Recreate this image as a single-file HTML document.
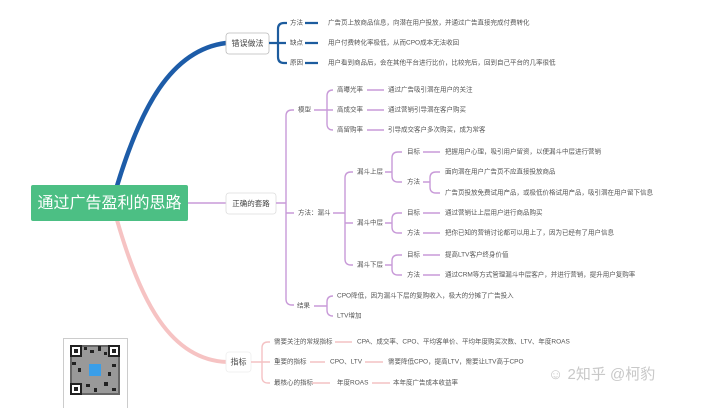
<!DOCTYPE html>
<html><head><meta charset="utf-8"><style>
html,body{margin:0;padding:0;background:#fff;}
svg{display:block;font-family:"Liberation Sans","Noto Sans CJK SC",sans-serif;}
.t{font-size:6.5px;fill:#555;dominant-baseline:middle;}
.b{fill:none;stroke:#1d5c9e;stroke-width:2.2;}
.p{fill:none;stroke:#c89ad8;stroke-width:1.4;}
.k{fill:none;stroke:#f4c2c4;stroke-width:1.4;}
</style></head><body>
<svg width="720" height="408" viewBox="0 0 720 408">
<path d="M117 186 C140 110 170 50 226 43" fill="none" stroke="#1d5ca8" stroke-width="4.5"/>
<path d="M117 220 C140 300 170 360 227 362" fill="none" stroke="#f6c3c3" stroke-width="4"/>
<line x1="188" y1="203" x2="226" y2="203" stroke="#c89ad8" stroke-width="1.4"/>
<rect x="31" y="185" width="157" height="36" rx="2" fill="#4cbf84"/>
<text x="109.5" y="204" font-size="16" fill="#fff" text-anchor="middle" dominant-baseline="middle">通过广告盈利的思路</text>

<rect x="226" y="33" width="43" height="21" rx="3" fill="#fff" stroke="#bbb" stroke-width="0.8"/>
<text x="247.5" y="44" font-size="8" fill="#444" text-anchor="middle" dominant-baseline="middle">错误做法</text>
<path class="b" d="M269 43 H278 M284 23 Q278 23 278 29 V57 Q278 63 284 63 M278 43 H286 M284 23 H287 M284 63 H287"/>
<text class="t" x="290" y="23">方法</text><text class="t" x="290" y="43">缺点</text><text class="t" x="290" y="63">原因</text>
<path class="b" d="M305 23 H318 M305 43 H318 M305 63 H318"/>
<text class="t" x="328" y="23">广告页上放商品信息，向潜在用户投放，并通过广告直接完成付费转化</text>
<text class="t" x="328" y="43">用户付费转化率极低，从而CPO成本无法收回</text>
<text class="t" x="328" y="63">用户看到商品后，会在其他平台进行比价，比较完后，回到自己平台的几率很低</text>

<rect x="226" y="193" width="50" height="21" rx="3" fill="#fff" stroke="#ddd" stroke-width="0.8"/>
<text x="251" y="204" font-size="7.5" fill="#444" text-anchor="middle" dominant-baseline="middle">正确的套路</text>
<path class="p" d="M276 203 H286 M292 110 Q286 110 286 116 V299 Q286 305 292 305 H294 M286 213 H294 M292 110 H294"/>
<text class="t" x="298" y="110">模型</text>
<text class="t" x="298" y="213">方法：漏斗</text>
<text class="t" x="297" y="306">结果</text>
<path class="p" d="M314 110 H327 M333 90 Q327 90 327 96 V124 Q327 130 333 130 M327 110 H333"/>
<text class="t" x="337" y="90">高曝光率</text><text class="t" x="337" y="110">高成交率</text><text class="t" x="337" y="130">高留购率</text>
<path class="p" d="M367 90 H384 M367 110 H384 M367 130 H384"/>
<text class="t" x="388" y="90">通过广告吸引潜在用户的关注</text>
<text class="t" x="388" y="110">通过营销引导潜在客户购买</text>
<text class="t" x="388" y="130">引导成交客户多次购买，成为常客</text>
<path class="p" d="M333 213 H345 M351 172 Q345 172 345 178 V259 Q345 265 351 265 M345 223 H353 M351 172 H353 M351 265 H353"/>
<text class="t" x="357" y="172">漏斗上层</text><text class="t" x="357" y="223">漏斗中层</text><text class="t" x="357" y="265">漏斗下层</text>
<path class="p" d="M385 172 H392 M398 152 Q392 152 392 158 V176 Q392 182 398 182 M398 152 H402 M398 182 H402
M385 223 H392 M398 213 Q392 213 392 219 V227 Q392 233 398 233 M398 213 H402 M398 233 H402
M385 265 H392 M398 255 Q392 255 392 261 V269 Q392 275 398 275 M398 255 H402 M398 275 H402"/>
<text class="t" x="407" y="152">目标</text><text class="t" x="407" y="182">方法</text>
<text class="t" x="407" y="213">目标</text><text class="t" x="407" y="233">方法</text>
<text class="t" x="407" y="255">目标</text><text class="t" x="407" y="275">方法</text>
<path class="p" d="M423 152 H440 M423 213 H440 M423 233 H440 M423 255 H440 M423 275 H440 M423 182 H430 M436 172 Q430 172 430 178 V187 Q430 193 436 193 M436 172 H440 M436 193 H440"/>
<text class="t" x="445" y="152">把握用户心理，吸引用户留资，以便漏斗中层进行营销</text>
<text class="t" x="445" y="172">面向潜在用户广告页不应直接投放商品</text>
<text class="t" x="445" y="193">广告页投放免费试用产品，或极低价格试用产品，吸引潜在用户留下信息</text>
<text class="t" x="445" y="213">通过营销让上层用户进行商品购买</text>
<text class="t" x="445" y="233">把你已知的营销讨论都可以用上了，因为已经有了用户信息</text>
<text class="t" x="445" y="255">提高LTV客户终身价值</text>
<text class="t" x="445" y="275">通过CRM等方式管理漏斗中层客户，并进行营销，提升用户复购率</text>
<path class="p" d="M314 306 H327 M333 296 Q327 296 327 302 V310 Q327 316 333 316"/>
<text class="t" x="337" y="296">CPO降低，因为漏斗下层的复购收入，极大的分摊了广告投入</text>
<text class="t" x="337" y="316">LTV增加</text>

<rect x="226" y="352" width="25" height="20" rx="3" fill="#fff" stroke="#eee" stroke-width="0.8"/>
<text x="238.5" y="362.5" font-size="8" fill="#444" text-anchor="middle" dominant-baseline="middle">指标</text>
<path class="k" d="M251 362 H262 M268 342 Q262 342 262 348 V377 Q262 383 268 383 H270 M262 362 H270 M268 342 H270"/>
<text class="t" x="274" y="342">需要关注的常规指标</text>
<text class="t" x="274" y="362">重要的指标</text>
<text class="t" x="274" y="383">最核心的指标</text>
<path class="k" d="M335 342 H352 M310 362 H325 M365 362 H383 M312 383 H330 M372 383 H390"/>
<text class="t" x="357" y="342">CPA、成交率、CPO、平均客单价、平均年度购买次数、LTV、年度ROAS</text>
<text class="t" x="330" y="362">CPO、LTV</text>
<text class="t" x="388" y="362">需要降低CPO，提高LTV，需要让LTV高于CPO</text>
<text class="t" x="337" y="383">年度ROAS</text>
<text class="t" x="393" y="383">本年度广告成本收益率</text>

<text x="548" y="375" font-size="15" fill="#c8c8c8" dominant-baseline="middle">☺ 2知乎 @柯豹</text>

<rect x="63.5" y="338.5" width="64" height="70" fill="#fff" stroke="#ccc"/>
<g fill="#222">
<rect x="70" y="345" width="50" height="50" fill="#666"/>
<rect x="72" y="347" width="46" height="46" fill="#999"/>
<rect x="84" y="347" width="3" height="3"/><rect x="90" y="350" width="4" height="3"/><rect x="98" y="346" width="3" height="5"/><rect x="104" y="352" width="3" height="3"/>
<rect x="72" y="362" width="4" height="3"/><rect x="78" y="368" width="3" height="4"/><rect x="112" y="364" width="4" height="3"/><rect x="108" y="372" width="3" height="4"/>
<rect x="86" y="384" width="4" height="3"/><rect x="94" y="388" width="3" height="4"/><rect x="104" y="382" width="4" height="4"/><rect x="112" y="388" width="4" height="3"/>
<rect x="70" y="345" width="12" height="12"/><rect x="108" y="345" width="12" height="12"/><rect x="70" y="383" width="12" height="12"/>
<rect x="72" y="347" width="8" height="8" fill="#fff"/><rect x="110" y="347" width="8" height="8" fill="#fff"/><rect x="72" y="385" width="8" height="8" fill="#fff"/>
<rect x="74" y="349" width="4" height="4"/><rect x="112" y="349" width="4" height="4"/><rect x="74" y="387" width="4" height="4"/>
</g>
<rect x="89" y="364" width="12" height="12" fill="#3a9ee8"/>
</svg>
</body></html>
